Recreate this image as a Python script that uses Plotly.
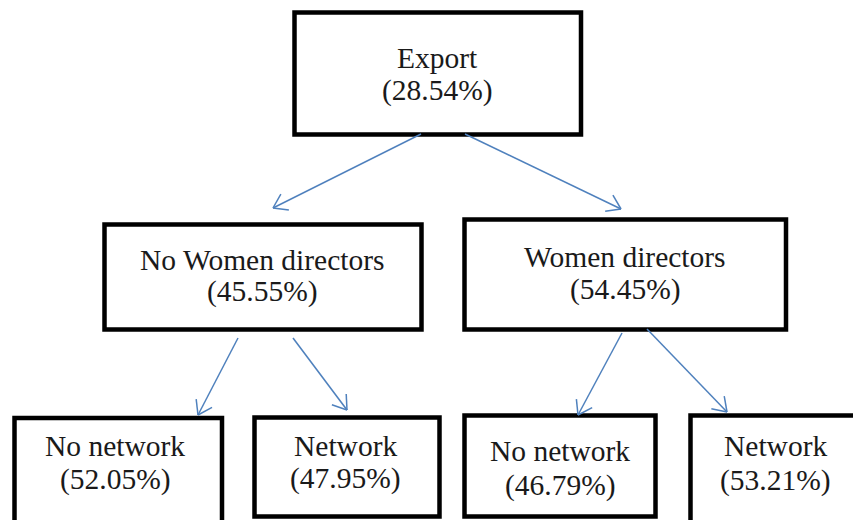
import math
import plotly.graph_objects as go

# ---- data ----
node_names = ["Export", "No Women directors", "Women directors",
              "No network", "Network", "No network", "Network"]
node_shares = [28.54, 45.55, 54.45, 52.05, 47.95, 46.79, 53.21]
edge_parent = [0, 0, 1, 1, 2, 2]
edge_child = [1, 2, 3, 4, 5, 6]

# ---- layout (pixel coordinates of the picture) ----
W, H = 853, 520
box_x0 = [294.5, 104.5, 464.5, 14.5, 254.5, 464.5, 690.5]
box_x1 = [581.0, 421.5, 786.0, 222.0, 439.5, 655.5, 872.0]
box_y0 = [12.5, 224.5, 219.5, 418.0, 417.5, 415.5, 415.5]
box_y1 = [134.5, 329.5, 329.5, 545.0, 516.5, 516.5, 545.0]
label_y1 = [58, 260, 257, 446, 446, 451, 446]
label_y2 = [90, 291, 289, 479, 478, 485, 480]
label_x = [437, 262, 625, 115, 345, 560, 775]
arrow_start = [(421, 134), (465, 134), (238, 338), (293, 338), (622, 333), (647, 329)]
arrow_tip = [(273, 208), (621, 209), (198, 415), (347, 410), (578, 415), (727, 412)]

BLUE = "#4f81bd"
FONT = "Liberation Serif"
FS = 29.5

fig = go.Figure()
shapes = []
for i in range(len(node_names)):
    shapes.append(dict(type="rect", xref="x", yref="y",
                       x0=box_x0[i], x1=box_x1[i], y0=box_y0[i], y1=box_y1[i],
                       line=dict(color="black", width=4.5), fillcolor="rgba(0,0,0,0)"))

head_len, head_ang = 16, math.radians(34)
for k in range(len(edge_parent)):
    (sx, sy), (tx, ty) = arrow_start[k], arrow_tip[k]
    shapes.append(dict(type="line", xref="x", yref="y", x0=sx, y0=sy, x1=tx, y1=ty,
                       line=dict(color=BLUE, width=1.5)))
    bx, by = sx - tx, sy - ty
    base = math.atan2(by, bx)
    for s in (-1, 1):
        a = base + s * head_ang
        shapes.append(dict(type="line", xref="x", yref="y", x0=tx, y0=ty,
                           x1=tx + head_len * math.cos(a), y1=ty + head_len * math.sin(a),
                           line=dict(color=BLUE, width=1.5)))

annotations = []
for i in range(len(node_names)):
    annotations.append(dict(x=label_x[i], y=label_y1[i], xref="x", yref="y",
                            text=node_names[i], showarrow=False,
                            xanchor="center", yanchor="middle",
                            font=dict(family=FONT, size=FS, color="#1a1a1a")))
    annotations.append(dict(x=label_x[i], y=label_y2[i], xref="x", yref="y",
                            text="(%.2f%%)" % node_shares[i], showarrow=False,
                            xanchor="center", yanchor="middle",
                            font=dict(family=FONT, size=FS, color="#1a1a1a")))

fig.update_layout(
    width=W, height=H, margin=dict(l=0, r=0, t=0, b=0),
    paper_bgcolor="white", plot_bgcolor="white",
    font=dict(family=FONT),
    xaxis=dict(range=[0, W], visible=False, fixedrange=True),
    yaxis=dict(range=[H, 0], visible=False, fixedrange=True),
    shapes=shapes, annotations=annotations, showlegend=False,
)
fig.write_html("out.html", config={"displayModeBar": False},
               post_script="document.body.style.margin='0';document.body.style.padding='0';")
